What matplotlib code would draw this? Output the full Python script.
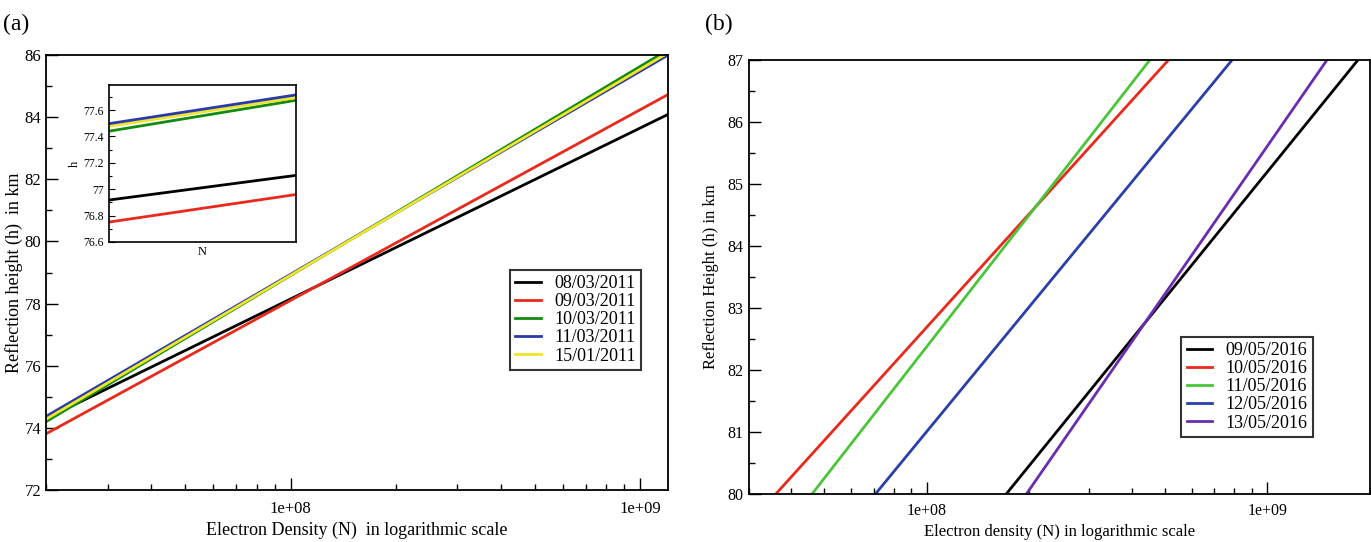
import numpy as np
import matplotlib
matplotlib.use("Agg")
import matplotlib.pyplot as plt
from matplotlib.ticker import LogLocator, MultipleLocator, NullFormatter, FixedLocator

plt.rcParams['font.family'] = ['Liberation Serif', 'DejaVu Serif']
plt.rcParams['mathtext.fontset'] = 'stix'

# ---- panel (a): March 2011 ----
dates_a = ["08/03/2011", "09/03/2011", "10/03/2011", "11/03/2011", "15/01/2011"]
colors_a = ["#000000", "#e8291c", "#138a13", "#2a3aa8", "#f0e526"]
N_a = [2e7, 1.2e9]
h_a = [
    [74.30, 84.09],
    [73.81, 84.73],
    [74.20, 86.17],
    [74.37, 86.00],
    [74.28, 86.07],
]

# inset (zoomed section of panel a)
N_in = [5.96e7, 6.44e7]
h_in = [
    [76.918, 77.105],
    [76.751, 76.960],
    [77.440, 77.674],
    [77.497, 77.715],
    [77.477, 77.695],
]
# draw order inside the inset so that blue/yellow/green overlap as in the figure
order_in = [0, 1, 2, 4, 3]

# ---- panel (b): May 2016 ----
dates_b = ["09/05/2016", "10/05/2016", "11/05/2016", "12/05/2016", "13/05/2016"]
colors_b = ["#000000", "#e8291c", "#4cc43a", "#2a3fa8", "#6a2db0"]
h_b = [80, 87]
N_b = [
    [1.71e8, 1.85e9],
    [3.60e7, 5.14e8],
    [4.60e7, 4.53e8],
    [7.06e7, 7.90e8],
    [1.96e8, 1.50e9],
]


def style_axes(ax, fs):
    ax.tick_params(which='both', direction='in', top=False, right=False,
                   labelsize=fs, width=1.0)
    ax.tick_params(which='major', length=8.5)
    ax.tick_params(which='minor', length=4.5)
    for s in ax.spines.values():
        s.set_linewidth(1.3)


def make_legend(ax, anchor):
    leg = ax.legend(loc='lower right', bbox_to_anchor=anchor, fontsize=13,
                    frameon=True, fancybox=False, edgecolor='black',
                    handlelength=1.4, handletextpad=0.75, borderpad=0.3,
                    labelspacing=0.06, borderaxespad=0)
    leg.get_frame().set_linewidth(1.5)
    return leg


fig = plt.figure(figsize=(13.71, 5.42), dpi=100)

# (a)
ax1 = fig.add_axes([0.0336, 0.0959, 0.4537, 0.8026])
for i in range(len(dates_a)):
    ax1.plot(N_a, h_a[i], color=colors_a[i], lw=2.0, label=dates_a[i])
ax1.set_xscale('log')
ax1.set_xlim(2e7, 1.2e9)
ax1.set_ylim(72, 86)
ax1.yaxis.set_major_locator(MultipleLocator(2))
ax1.yaxis.set_minor_locator(MultipleLocator(1))
ax1.xaxis.set_major_locator(FixedLocator([1e8, 1e9]))
ax1.xaxis.set_minor_locator(LogLocator(base=10, subs=np.arange(2, 10)))
ax1.xaxis.set_minor_formatter(NullFormatter())
ax1.set_xticklabels(["1e+08", "1e+09"])
style_axes(ax1, 12)
ax1.tick_params(axis='x', pad=8)
ax1.set_xlabel("Electron Density (N)  in logarithmic scale", fontsize=13, labelpad=3)
ax1.set_ylabel("Reflection height (h)  in km", fontsize=13, labelpad=1)
make_legend(ax1, (0.957, 0.276))

# inset
axi = fig.add_axes([109 / 1371, 1 - 242 / 542, 187 / 1371, 157 / 542])
for i in order_in:
    axi.plot(N_in, h_in[i], color=colors_a[i], lw=2.0)
axi.set_xscale('log')
axi.set_xlim(N_in)
axi.set_ylim(76.6, 77.79)
axi.yaxis.set_major_locator(MultipleLocator(0.2))
axi.yaxis.set_minor_locator(MultipleLocator(0.1))
axi.yaxis.set_major_formatter(plt.FuncFormatter(lambda v, p: ("%.1f" % v).rstrip('0').rstrip('.')))
axi.xaxis.set_major_locator(FixedLocator([]))
axi.xaxis.set_minor_locator(FixedLocator([]))
axi.tick_params(which='both', direction='in', top=False, right=False,
                labelsize=8.5, width=0.8)
axi.tick_params(which='major', length=4)
axi.tick_params(which='minor', length=2.5)
for s in axi.spines.values():
    s.set_linewidth(1.2)
axi.set_xlabel("N", fontsize=9, labelpad=3)
axi.set_ylabel("h", fontsize=9, labelpad=2)

# (b)
ax2 = fig.add_axes([0.546, 0.088, 0.4531, 0.802])
for i in range(len(dates_b)):
    ax2.plot(N_b[i], h_b, color=colors_b[i], lw=2.0, label=dates_b[i])
ax2.set_xscale('log')
ax2.set_xlim(3e7, 2e9)
ax2.set_ylim(80, 87)
ax2.yaxis.set_major_locator(MultipleLocator(1))
ax2.yaxis.set_minor_locator(MultipleLocator(0.5))
ax2.xaxis.set_major_locator(FixedLocator([1e8, 1e9]))
ax2.xaxis.set_minor_locator(LogLocator(base=10, subs=np.arange(2, 10)))
ax2.xaxis.set_minor_formatter(NullFormatter())
ax2.set_xticklabels(["1e+08", "1e+09"])
style_axes(ax2, 11.5)
ax2.tick_params(axis='x', pad=6)
ax2.set_xlabel("Electron density (N) in logarithmic scale", fontsize=12, labelpad=4)
ax2.set_ylabel("Reflection Height (h) in km", fontsize=12, labelpad=6)
make_legend(ax2, (0.9086, 0.132))

fig.text(0.002, 0.975, "(a)", fontsize=17, va='top', ha='left')
fig.text(0.514, 0.975, "(b)", fontsize=17, va='top', ha='left')

fig.savefig("out.png", dpi=100)
